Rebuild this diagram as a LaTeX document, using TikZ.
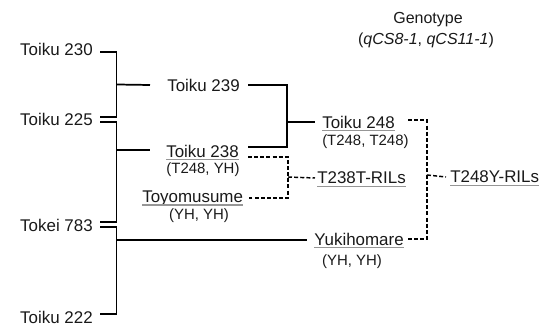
\documentclass[tikz,border=0pt]{standalone}
\usepackage{fontspec}
\setmainfont{Liberation Sans}
\usetikzlibrary{positioning}
\definecolor{txtcol}{RGB}{25,25,25}
\definecolor{ulcol}{RGB}{150,150,150}

\begin{document}
\begin{tikzpicture}[x=0.75pt,y=-0.75pt,
  lbl/.style={inner sep=0pt,text depth=0pt,text=txtcol,font=\fontsize{12.7}{15}\selectfont},
  sub/.style={inner sep=0pt,text=txtcol,font=\fontsize{11.2}{13}\selectfont},
  link/.style={line width=1.3pt},
  cross/.style={line width=1.1pt,dash pattern=on 3pt off 1.6pt},
  ul/.style={ulcol,line width=1pt}]
\useasboundingbox (0,0) rectangle (547,327);
% heading
\node[sub,font=\fontsize{12}{14}\selectfont] (head) at (428,20) {Genotype};
\node[sub,font=\fontsize{12}{14}\selectfont] (head-q) at (426,40) {(\textit{qCS8-1}, \textit{qCS11-1})};
% left: parents
\node[lbl,anchor=east] (t230) at (93,49) {Toiku 230};
\node[lbl,anchor=east] (t225) at (93,119) {Toiku 225};
\node[lbl,anchor=east] (k783) at (93,225) {Tokei 783};
\node[lbl,anchor=east] (t222) at (93,317) {Toiku 222};
\coordinate (b1) at (116.5,84.5);
\coordinate (b2) at (116.5,150);
\coordinate (b3) at (116.5,240);
\draw[link] ([shift={(7,3)}]t230.east) -| (b1) |- ([shift={(7,-2.3)}]t225.east);
\draw[link] ([shift={(7,3)}]t225.east) -| (b2) |- ([shift={(7,-3)}]k783.east);
\draw[link] ([shift={(7,2)}]k783.east) -| (b3) |- ([shift={(7,-3)}]t222.east);
% middle: first crosses
\node[lbl,anchor=west] (t239) at (167,85) {Toiku 239};
\node[lbl,anchor=west] (t238) at (166,151) {Toiku 238};
\node[sub] (g238) at (203,170) {(T248, YH)};
\node[lbl,anchor=west] (toyo) at (142,197) {Toyomusume};
\node[sub] (g-toyo) at (199,216) {(YH, YH)};
\draw[link] (b1) -- ([shift={(-17,0)}]t239.west);
\draw[link] (b2) -- ([shift={(-16,-1)}]t238.west);
\coordinate (c1) at (287,122);
\coordinate (c2) at (288,177);
\draw[link] ([shift={(8,0)}]t239.east) -| (c1) |- ([shift={(9,-4)}]t238.east);
\draw[cross] ([shift={(9,6)}]t238.east) -| (c2) |- ([shift={(6,1)}]toyo.east);
% right: lines
\node[lbl,anchor=west] (t248) at (322,122) {Toiku 248};
\node[sub,anchor=west] (g248) at (322,142) {(T248, T248)};
\node[lbl,anchor=west] (rilT) at (317,178) {T238T-RILs};
\node[lbl,anchor=west] (yuki) at (314,239) {Yukihomare};
\node[sub] (g-yuki) at (352,262) {(YH, YH)};
\node[lbl,anchor=west] (rilY) at (450,177) {T248Y-RILs};
\draw[link] (c1) -- ([shift={(-7,0)}]t248.west);
\draw[cross] (c2) -- ([shift={(-2,0)}]rilT.west);
\draw[link] (b3) -- ([shift={(-7,1)}]yuki.west);
\coordinate (c3) at (427,175);
\draw[cross] ([shift={(13,-2)}]t248.east) -| (c3) |- ([shift={(3,0)}]yuki.east);
\draw[cross] (c3) -- ([shift={(-4,0)}]rilY.west);
\foreach \n in {t238,toyo,t248,rilT,yuki,rilY}
  \draw[ul] ([shift={(0,2)}]\n.south west) -- ([shift={(0,2)}]\n.south east);
\end{tikzpicture}
\end{document}
